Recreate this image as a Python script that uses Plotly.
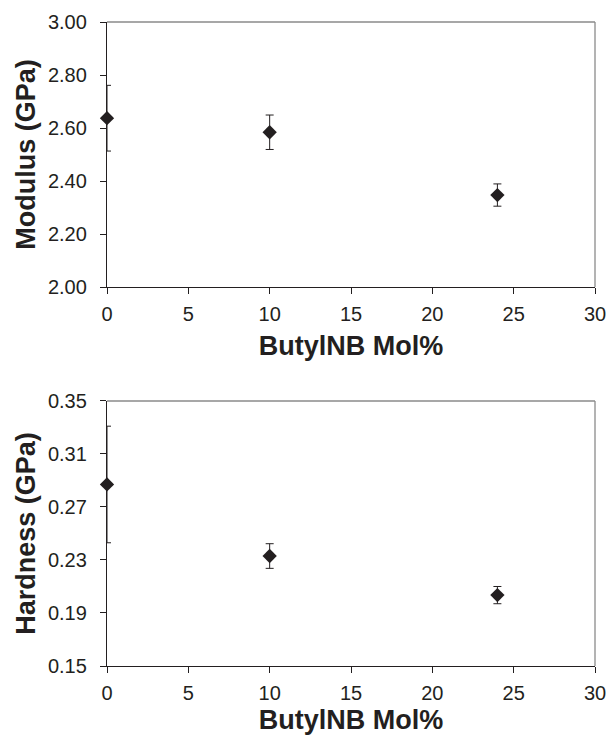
import plotly.graph_objects as go

mol = [0, 10, 24]
modulus = [2.637, 2.584, 2.347]
modulus_err = [0.124, 0.065, 0.042]
hardness = [0.287, 0.233, 0.2035]
hardness_err = [0.044, 0.0093, 0.0065]
x_ticks = [0, 5, 10, 15, 20, 25, 30]
mod_ticks = [2.00, 2.20, 2.40, 2.60, 2.80, 3.00]
hard_ticks = [0.15, 0.19, 0.23, 0.27, 0.31, 0.35]

INK = "#231f20"
FONT = "Liberation Sans, Arial, sans-serif"

fig = go.Figure()

for xa, ya, vals, errs in [("x", "y", modulus, modulus_err), ("x2", "y2", hardness, hardness_err)]:
    fig.add_trace(go.Scatter(
        x=mol, y=vals, xaxis=xa, yaxis=ya, mode="markers",
        marker=dict(size=1, color=INK),
        error_y=dict(type="data", array=errs, visible=True, color=INK, thickness=1, width=4),
        cliponaxis=True, showlegend=False, hoverinfo="skip"))
    fig.add_trace(go.Scatter(
        x=mol, y=vals, xaxis=xa, yaxis=ya, mode="markers",
        marker=dict(symbol="diamond", size=11, color=INK, line=dict(width=0)),
        cliponaxis=False, showlegend=False))

xcommon = dict(range=[0, 30], tickvals=x_ticks, ticks="outside", ticklen=6, tickwidth=1,
               tickcolor=INK, showline=True, linecolor=INK, linewidth=1.3, showgrid=False,
               zeroline=False, layer="below traces", automargin=False,
               tickfont=dict(family=FONT, size=20, color=INK),
               ticklabelstandoff=3)
ycommon = dict(ticks="outside", ticklen=6, tickwidth=1, tickcolor=INK, showline=True,
               linecolor=INK, linewidth=1.3, showgrid=False, zeroline=False,
               layer="below traces", tickformat=".2f", automargin=False,
               tickfont=dict(family=FONT, size=20, color=INK), ticklabelstandoff=9)
tfont = dict(family=FONT, size=27, color=INK, weight="bold")

fig.update_layout(
    width=609, height=737,
    margin=dict(l=107, r=14, t=22, b=71),
    paper_bgcolor="white", plot_bgcolor="white",
    xaxis=dict(xcommon, anchor="y", domain=[0, 1],
               title=dict(text="ButylNB Mol%", font=tfont, standoff=11)),
    yaxis=dict(ycommon, anchor="x", domain=[0.5885, 1], range=[2.0, 3.0], tickvals=mod_ticks,
               title=dict(text="Modulus (GPa)", font=tfont, standoff=4)),
    xaxis2=dict(xcommon, anchor="y2", domain=[0, 1],
                title=dict(text="ButylNB Mol%", font=tfont, standoff=6)),
    yaxis2=dict(ycommon, anchor="x2", domain=[0, 0.4115], range=[0.15, 0.35], tickvals=hard_ticks,
                title=dict(text="Hardness (GPa)", font=tfont, standoff=4)),
)

for xr, yr in [("x domain", "y domain"), ("x2 domain", "y2 domain")]:
    fig.add_shape(type="line", xref=xr, yref=yr, x0=0, x1=1, y0=1, y1=1,
                  line=dict(color="#8a8a8a", width=1.3))
    fig.add_shape(type="line", xref=xr, yref=yr, x0=1, x1=1, y0=0, y1=1,
                  line=dict(color="#8a8a8a", width=1.3))

fig.write_html("out.html", config={"displayModeBar": False},
               post_script="document.body.style.margin='0';document.body.style.overflow='hidden';")
